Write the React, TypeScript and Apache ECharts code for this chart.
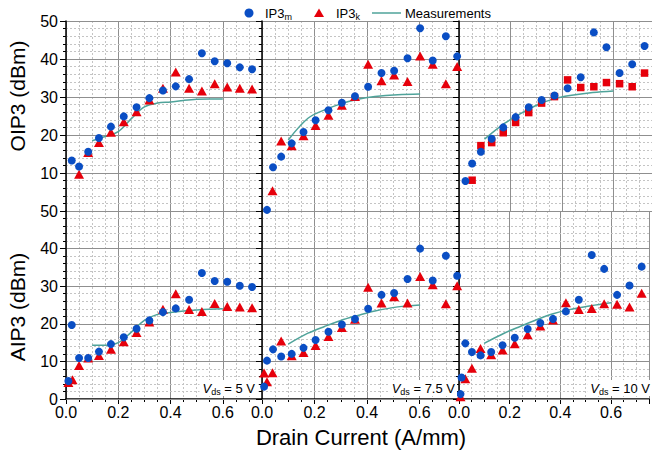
import React, { useEffect, useRef } from 'react';
import * as echarts from 'echarts';

const FONT = "'Liberation Sans', Arial, Helvetica, sans-serif";
const BLUE = '#0a4ec4';
const RED = '#e6000b';
const TEAL = '#4fa39a';

// x ticks / y ticks
const xTickLabels = ['0.0', '0.2', '0.4', '0.6'];
const yTickValues = [0, 10, 20, 30, 40, 50];
const vdsLabels = ['5', '7.5', '10'];

// ---- Vds = 5 V ----
const oip3m_5 = [[0.022,13.3],[0.05,11.7],[0.085,15.6],[0.126,19.2],[0.172,22.2],[0.221,24.9],[0.27,27.3],[0.319,29.7],[0.371,31.7],[0.42,32.8],[0.471,34.7],[0.52,41.5],[0.569,39.4],[0.617,38.9],[0.665,37.8],[0.712,37.3]];
const oip3k_5 = [[0.05,9.7],[0.085,15.4],[0.126,18.0],[0.172,20.7],[0.221,23.5],[0.27,26.1],[0.319,29.2],[0.371,32.3],[0.42,36.6],[0.471,32.3],[0.52,31.6],[0.569,33.5],[0.617,32.6],[0.665,32.3],[0.712,32.1]];
const oip3meas_5 = [[0.1,18.5],[0.15,19.6],[0.2,20.9],[0.25,24.3],[0.3,27.4],[0.35,28.4],[0.4,28.7],[0.45,29.1],[0.5,29.4],[0.55,29.5],[0.6,29.5]];
const aip3m_5 = [[0.009,4.8],[0.022,19.7],[0.05,10.9],[0.085,10.9],[0.126,12.6],[0.172,14.6],[0.221,16.4],[0.27,18.7],[0.319,20.9],[0.371,23.1],[0.42,24.1],[0.471,26.4],[0.52,33.5],[0.569,31.4],[0.617,31.2],[0.665,30.1],[0.712,29.8]];
const aip3k_5 = [[0.009,4.4],[0.025,5.1],[0.05,8.9],[0.085,10.9],[0.126,11.6],[0.172,13.2],[0.221,15.2],[0.27,17.7],[0.319,20.5],[0.371,23.9],[0.42,28.0],[0.471,23.8],[0.52,23.3],[0.569,25.4],[0.617,24.6],[0.665,24.5],[0.712,24.3]];
const aip3meas_5 = [[0.1,14.3],[0.15,14.3],[0.2,15.0],[0.25,17.8],[0.3,20.9],[0.35,22.5],[0.4,23.0],[0.45,23.4],[0.5,23.7],[0.55,23.9],[0.6,24.0]];

// ---- Vds = 7.5 V ----
const oip3m_75 = [[0.019,0.3],[0.042,11.5],[0.073,14.3],[0.113,17.8],[0.158,20.8],[0.204,23.9],[0.253,26.5],[0.304,28.5],[0.354,30.2],[0.404,32.7],[0.455,36.3],[0.503,36.9],[0.554,40.2],[0.602,48.1],[0.65,39.6],[0.70,46.0],[0.743,40.7]];
const oip3k_75 = [[0.04,5.3],[0.073,18.4],[0.113,17.2],[0.158,19.8],[0.204,22.5],[0.253,25.2],[0.304,27.8],[0.354,30.1],[0.404,38.6],[0.455,34.3],[0.503,35.8],[0.554,34.1],[0.602,40.8],[0.65,38.6],[0.70,33.5],[0.743,38.0]];
const oip3meas_75 = [[0.1,18.7],[0.175,24.4],[0.238,26.6],[0.30,28.2],[0.365,29.4],[0.43,30.1],[0.517,30.6],[0.602,30.8]];
const aip3m_75 = [[0.008,3.3],[0.019,10.2],[0.042,13.2],[0.073,11.3],[0.113,12.0],[0.158,13.6],[0.204,15.7],[0.253,17.9],[0.304,19.8],[0.354,21.3],[0.404,24.0],[0.455,27.7],[0.503,28.2],[0.554,31.9],[0.602,40.0],[0.65,31.5],[0.70,38.1],[0.743,32.8]];
const aip3k_75 = [[0.008,6.9],[0.019,4.6],[0.04,7.0],[0.073,15.4],[0.113,11.5],[0.158,12.4],[0.204,14.2],[0.253,16.6],[0.304,19.0],[0.354,21.2],[0.404,29.7],[0.455,25.5],[0.503,27.2],[0.554,25.5],[0.602,32.6],[0.65,30.4],[0.70,25.3],[0.743,30.1]];
const aip3meas_75 = [[0.1,14.6],[0.175,17.5],[0.238,19.3],[0.30,20.9],[0.365,22.2],[0.43,23.4],[0.517,24.5],[0.602,25.0]];

// ---- Vds = 10 V ----
const oip3m_10 = [[0.025,7.9],[0.051,12.5],[0.085,15.6],[0.127,19.0],[0.172,22.0],[0.22,24.7],[0.271,27.3],[0.321,29.2],[0.371,30.4],[0.422,32.3],[0.473,35.2],[0.524,47.0],[0.573,43.1],[0.624,36.3],[0.673,38.6],[0.721,43.4]];
const oip3k_10 = [[0.051,8.1],[0.085,17.2],[0.127,18.0],[0.172,20.6],[0.22,23.3],[0.271,25.9],[0.321,28.4],[0.371,30.1],[0.422,34.5],[0.473,32.5],[0.524,32.7],[0.573,33.8],[0.624,33.5],[0.673,32.7],[0.721,36.3]];
const oip3meas_10 = [[0.099,18.9],[0.178,23.1],[0.241,25.7],[0.304,27.9],[0.368,29.5],[0.431,30.4],[0.52,31.2],[0.6,31.6]];
const aip3m_10 = [[0.006,1.3],[0.01,5.7],[0.025,14.8],[0.051,12.5],[0.085,11.6],[0.127,12.5],[0.172,14.3],[0.22,16.3],[0.271,18.6],[0.321,20.2],[0.371,21.3],[0.422,23.3],[0.473,26.4],[0.524,38.3],[0.573,34.6],[0.624,27.7],[0.673,30.2],[0.721,35.2]];
const aip3k_10 = [[0.006,0.6],[0.025,5.4],[0.051,8.2],[0.085,13.4],[0.127,11.8],[0.172,13.0],[0.22,14.7],[0.271,17.1],[0.321,19.4],[0.371,21.0],[0.422,25.6],[0.473,23.8],[0.524,24.1],[0.573,25.3],[0.624,25.2],[0.673,24.5],[0.721,28.1]];
const aip3meas_10 = [[0.099,14.8],[0.178,17.5],[0.241,19.3],[0.304,21.0],[0.368,22.6],[0.431,23.7],[0.52,24.8],[0.6,25.6]];

const topSets = [
  { m: oip3m_5, k: oip3k_5, meas: oip3meas_5, kSymbol: 'triangle' },
  { m: oip3m_75, k: oip3k_75, meas: oip3meas_75, kSymbol: 'triangle' },
  { m: oip3m_10, k: oip3k_10, meas: oip3meas_10, kSymbol: 'rect' },
];
const bottomSets = [
  { m: aip3m_5, k: aip3k_5, meas: aip3meas_5, kSymbol: 'triangle' },
  { m: aip3m_75, k: aip3k_75, meas: aip3meas_75, kSymbol: 'triangle' },
  { m: aip3m_10, k: aip3k_10, meas: aip3meas_10, kSymbol: 'triangle' },
];

const X_MAX = 0.75;
const colLefts = [66, 262, 459];
const colWidths = [196, 197, 197];
const rowTops = [21, 211];
const rowHeights = [190, 188];

function buildOption() {
  const grid: any[] = [];
  const xAxis: any[] = [];
  const yAxis: any[] = [];
  const series: any[] = [];
  for (let r = 0; r < 2; r++) {
    for (let c = 0; c < 3; c++) {
      const g = r * 3 + c;
      const isBottom = r === 1;
      const isLeft = c === 0;
      grid.push({ left: colLefts[c], top: rowTops[r], width: colWidths[c], height: rowHeights[r], containLabel: false });
      xAxis.push({
        gridIndex: g, type: 'value', min: 0, max: X_MAX, interval: 0.05, position: 'bottom', z: 0,
        axisLine: { show: false },
        axisTick: { show: isBottom, length: 3, lineStyle: { color: '#000', width: 1 } },
        axisLabel: { show: false },
        splitLine: { show: true, lineStyle: { color: '#c4c4c4', type: [2, 2], width: 1 } },
      });
      xAxis.push({
        gridIndex: g, type: 'value', min: 0, max: X_MAX, interval: 0.2, position: 'bottom', z: 0,
        axisLine: { show: isBottom, onZero: false, lineStyle: { color: '#000', width: 1.5 } },
        axisTick: { show: isBottom, length: 5, lineStyle: { color: '#000', width: 1 } },
        axisLabel: {
          show: isBottom, color: '#000', fontSize: 16, fontFamily: FONT, margin: 5,
          formatter: (v: number) => {
            const i = Math.round(v / 0.2);
            return Math.abs(v - i * 0.2) < 1e-6 && i < xTickLabels.length ? xTickLabels[i] : '';
          },
        },
        splitLine: { show: true, lineStyle: { color: '#8f8f8f', width: 1 } },
      });
      yAxis.push({
        gridIndex: g, type: 'value', min: yTickValues[0], max: yTickValues[yTickValues.length - 1], interval: 10, z: 1,
        axisLine: { show: true, onZero: false, lineStyle: { color: '#000', width: 1.5 } },
        axisTick: { show: true, length: 6, lineStyle: { color: '#000', width: 1 } },
        minorTick: { show: true, splitNumber: 5, length: 3, lineStyle: { color: '#000', width: 1 } },
        axisLabel: { show: isLeft, showMinLabel: isBottom, color: '#000', fontSize: 16, fontFamily: FONT, margin: 8 },
        splitLine: { show: true, lineStyle: { color: '#8f8f8f', width: 1 } },
        minorSplitLine: { show: true, lineStyle: { color: '#c4c4c4', type: [2, 2], width: 1 } },
      });
      const set = isBottom ? bottomSets[c] : topSets[c];
      series.push({
        name: 'Measurements', type: 'line', xAxisIndex: 2 * g + 1, yAxisIndex: g,
        data: set.meas, smooth: 0.35, symbol: 'none', z: 2,
        lineStyle: { color: TEAL, width: 1.5 },
      });
      series.push({
        name: 'IP3k', type: 'scatter', xAxisIndex: 2 * g + 1, yAxisIndex: g,
        data: set.k, symbol: set.kSymbol, symbolSize: set.kSymbol === 'rect' ? 7.5 : [10, 9], z: 3,
        itemStyle: { color: RED, opacity: 1 },
      });
      series.push({
        name: 'IP3m', type: 'scatter', xAxisIndex: 2 * g + 1, yAxisIndex: g,
        data: set.m, symbol: 'circle', symbolSize: 8, z: 4,
        itemStyle: { color: BLUE, opacity: 1 },
      });
    }
  }

  const richBase = { fontFamily: FONT, fontSize: 13, fill: '#000' };
  const subStyle = { fontFamily: FONT, fontSize: 9, fill: '#000', padding: [8, 0, 0, 0] };

  const graphic: any[] = [
    { type: 'text', x: 17, y: 96, rotation: Math.PI / 2, z: 100,
      style: { text: 'OIP3 (dBm)', fontFamily: FONT, fontSize: 21, fill: '#000', align: 'center', verticalAlign: 'middle' } },
    { type: 'text', x: 17, y: 307, rotation: Math.PI / 2, z: 100,
      style: { text: 'AIP3 (dBm)', fontFamily: FONT, fontSize: 21, fill: '#000', align: 'center', verticalAlign: 'middle' } },
    { type: 'text', x: 361, y: 437, z: 100,
      style: { text: 'Drain Current (A/mm)', fontFamily: FONT, fontSize: 22, fill: '#000', align: 'center', verticalAlign: 'middle' } },
    { type: 'circle', z: 100, shape: { cx: 249, cy: 13, r: 4.5 }, style: { fill: BLUE } },
    { type: 'text', x: 265, y: 13, z: 100,
      style: { text: '{a|IP3}{s|m}', rich: { a: richBase, s: subStyle }, align: 'left', verticalAlign: 'middle' } },
    { type: 'polygon', z: 100, shape: { points: [[319, 8.5], [314, 17], [324, 17]] }, style: { fill: RED } },
    { type: 'text', x: 336, y: 13, z: 100,
      style: { text: '{a|IP3}{s|k}', rich: { a: richBase, s: subStyle }, align: 'left', verticalAlign: 'middle' } },
    { type: 'line', z: 100, shape: { x1: 372, y1: 13, x2: 401, y2: 13 }, style: { stroke: TEAL, lineWidth: 1.5 } },
    { type: 'text', x: 405, y: 13, z: 100,
      style: { text: 'Measurements', fontFamily: FONT, fontSize: 13, fill: '#000', align: 'left', verticalAlign: 'middle' } },
  ];
  const annRight = [257, 457, 652];
  vdsLabels.forEach((v, i) => {
    graphic.push({
      type: 'text', x: annRight[i], y: 388, z: 100,
      style: {
        text: `{i|V}{s|ds}{n| = ${v} V}`,
        rich: {
          i: { ...richBase, fontStyle: 'italic' },
          s: { ...subStyle, padding: [7, 0, 0, 0] },
          n: richBase,
        },
        align: 'right', verticalAlign: 'middle',
        backgroundColor: '#fff', padding: [0, 2, 0, 3],
      },
    });
  });

  return { animation: false, backgroundColor: '#fff', grid, xAxis, yAxis, series, graphic };
}

export default function App() {
  const ref = useRef<HTMLDivElement>(null);
  useEffect(() => {
    const chart = echarts.init(ref.current!, null, { renderer: 'svg' });
    chart.setOption(buildOption());
    return () => chart.dispose();
  }, []);
  return <div ref={ref} style={{ position: 'absolute', left: 0, top: 0, width: 652, height: 454 }} />;
}
